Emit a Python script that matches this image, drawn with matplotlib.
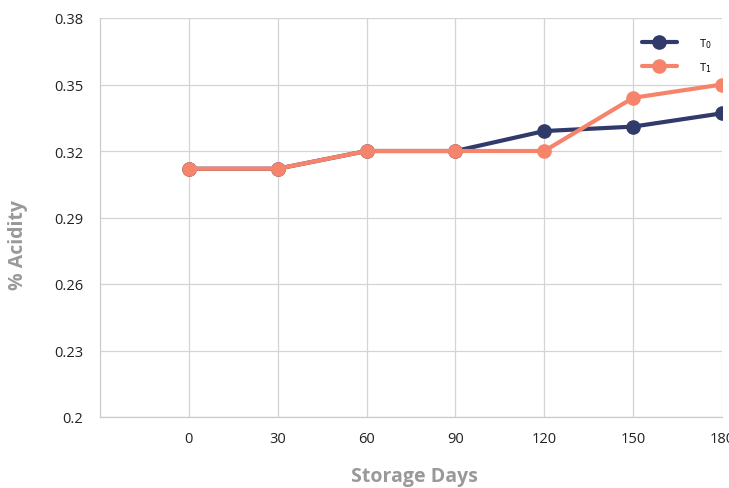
import matplotlib
matplotlib.use("Agg")
import matplotlib.pyplot as plt

days = [0, 30, 60, 90, 120, 150, 180]
t0 = [0.312, 0.312, 0.320, 0.320, 0.329, 0.331, 0.337]
t1 = [0.312, 0.312, 0.320, 0.320, 0.320, 0.344, 0.350]
y_ticks = [0.20, 0.23, 0.26, 0.29, 0.32, 0.35, 0.38]
y_tick_labels = ["0.2", "0.23", "0.26", "0.29", "0.32", "0.35", "0.38"]

plt.rcParams["font.family"] = ["Open Sans", "DejaVu Sans"]

fig = plt.figure(figsize=(7.29, 4.89), dpi=100)
ax = fig.add_axes([100 / 729, 1 - 418 / 489, 622 / 729, 399 / 489])

ax.plot(days, t0, color="#313b6b", lw=3, marker="o", ms=9.5,
        label="T$_0$", zorder=3, solid_capstyle="round")
ax.plot(days, t1, color="#f5846b", lw=3, marker="o", ms=9.5,
        label="T$_1$", zorder=4, solid_capstyle="round")

ax.set_xlim(-30, 180)
ax.set_ylim(0.20, 0.38)
ax.set_xticks(days)
ax.set_xticklabels([str(d) for d in days])
ax.set_yticks(y_ticks)
ax.set_yticklabels(y_tick_labels)

ax.grid(True, color="#d4d4d4", lw=0.9)
ax.set_axisbelow(True)
for s in ["top", "right"]:
    ax.spines[s].set_visible(False)
for s in ["left", "bottom"]:
    ax.spines[s].set_color("#cccccc")
    ax.spines[s].set_linewidth(0.9)
ax.tick_params(length=0, labelsize=10.5, colors="#222222")
ax.tick_params(axis="x", pad=10)
ax.tick_params(axis="y", pad=12)

ax.set_xlabel("Storage Days", fontsize=14, fontweight="bold", color="#999999", va="center")
ax.set_ylabel("% Acidity", fontsize=14, fontweight="bold", color="#999999", va="center")
ax.xaxis.set_label_coords(0.506, -0.148)
ax.yaxis.set_label_coords(-0.132, 0.434)

leg = ax.legend(loc="upper right", bbox_to_anchor=(1.0, 0.98), frameon=False,
                fontsize=8, handlelength=3.2, labelspacing=0.9, handletextpad=2.0)

fig.savefig("out.png", dpi=100)
